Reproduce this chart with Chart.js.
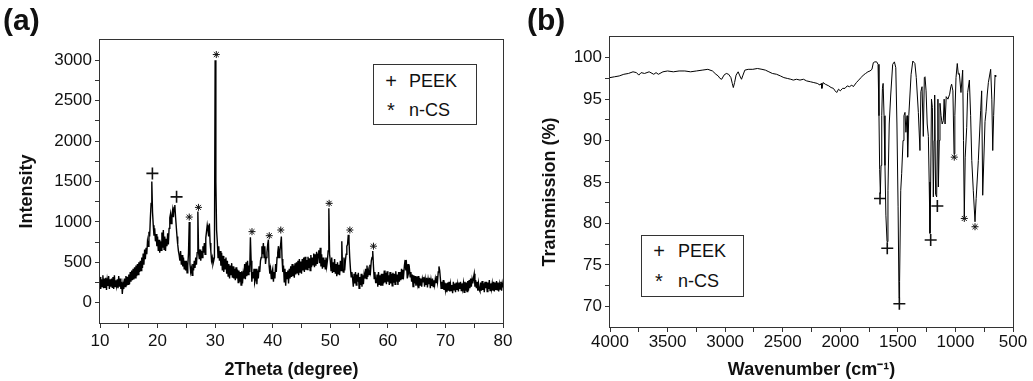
<!DOCTYPE html>
<html>
<head>
<meta charset="utf-8">
<script src="https://cdn.jsdelivr.net/npm/chart.js@4/dist/chart.umd.min.js"></script>
<style>
  body { margin: 0; width: 1033px; height: 381px; background: #fff; position: relative; overflow: hidden;
         font-family: "Liberation Sans", Arial, sans-serif; color: #111; }
  .panel { position: absolute; top: 0; height: 381px; }
  #panelA { left: 0; width: 516px; }
  #panelB { left: 516px; width: 517px; }
  .tag { position: absolute; top: 3px; font-weight: bold; font-size: 30px; }
  .legend { position: absolute; border: 1px solid #333; background: #fff; font-size: 18px; box-sizing: border-box; }
  .legend .row { position: absolute; left: 0; height: 22px; line-height: 22px; white-space: nowrap; }
  .legend .sym { position: absolute; width: 16px; text-align: center; font-size: 20px; }
</style>
</head>
<body>
<div class="panel" id="panelA"><canvas id="xrdChart" width="516" height="381"></canvas></div>
<div class="panel" id="panelB"><canvas id="ftirChart" width="517" height="381"></canvas></div>

<div class="tag" style="left:3px">(a)</div>
<div class="tag" style="left:527px">(b)</div>

<div class="legend" style="left:373px; top:64px; width:104px; height:61px">
  <div class="row" style="top:5px"><span class="sym" style="left:9px">+</span><span style="position:absolute; left:35px">PEEK</span></div>
  <div class="row" style="top:34px"><span class="sym" style="left:9px">*</span><span style="position:absolute; left:35px">n-CS</span></div>
</div>
<div class="legend" style="left:641px; top:235px; width:103px; height:62px">
  <div class="row" style="top:4px"><span class="sym" style="left:9px">+</span><span style="position:absolute; left:36px">PEEK</span></div>
  <div class="row" style="top:34px"><span class="sym" style="left:9px">*</span><span style="position:absolute; left:36px">n-CS</span></div>
</div>

<script>
// (a) XRD: 强度按 0.125° 步长读取, 从 10° 到 80°, 每行一个整度
const thetaStart = 10;
const thetaStep = 0.125;
const xrdIntensity = [
  320, 170, 290, 200, 340, 180, 300, 190,     // 10
  310, 160, 280, 210, 330, 170, 290, 200,     // 11
  300, 190, 320, 170, 340, 200, 280, 210,     // 12
  290, 180, 330, 200, 300, 170, 260, 110,     // 13
  230, 170, 300, 200, 330, 210, 320, 230,     // 14
  350, 230, 380, 260, 400, 280, 420, 290,     // 15
  440, 310, 460, 330, 480, 350, 500, 380,     // 16
  520, 400, 560, 430, 610, 470, 660, 540,     // 17
  680, 600, 760, 700, 880, 820, 1050, 1230,   // 18
  1500, 1120, 960, 830, 920, 760, 850, 700,   // 19
  820, 640, 780, 620, 760, 650, 870, 680,     // 20
  900, 660, 820, 640, 790, 700, 860, 720,     // 21
  920, 1050, 1100, 980, 1080, 1150, 1060, 1180, // 22
  1210, 1060, 940, 820, 720, 640, 590, 520,   // 23
  640, 470, 590, 450, 560, 420, 520, 400,     // 24
  520, 370, 460, 620, 1000, 480, 380, 430,    // 25
  340, 480, 400, 520, 430, 560, 470, 620,     // 26
  1130, 620, 540, 660, 520, 640, 560, 700,    // 27
  620, 740, 600, 800, 880, 960, 900, 820,     // 28
  980, 740, 640, 520, 560, 480, 520, 560,     // 29
  3000, 1500, 900, 760, 560, 700, 520, 640,   // 30
  460, 620, 400, 580, 380, 540, 420, 560,     // 31
  360, 520, 330, 480, 300, 460, 340, 490,     // 32
  310, 450, 300, 420, 280, 440, 300, 410,     // 33
  250, 400, 260, 380, 220, 390, 240, 360,     // 34
  300, 480, 290, 500, 330, 520, 350, 460,     // 35
  380, 810, 520, 260, 380, 300, 420, 250,     // 36
  290, 420, 230, 400, 300, 450, 380, 520,     // 37
  560, 700, 600, 740, 560, 700, 480, 560,     // 38
  620, 720, 780, 460, 360, 420, 300, 380,     // 39
  420, 260, 380, 300, 480, 380, 560, 620,     // 40
  700, 560, 640, 720, 820, 540, 380, 460,     // 41
  260, 420, 210, 380, 300, 400, 240, 420,     // 42
  300, 450, 320, 480, 330, 460, 310, 490,     // 43
  350, 500, 370, 520, 340, 540, 380, 510,     // 44
  360, 540, 400, 560, 380, 570, 410, 530,     // 45
  410, 570, 430, 550, 400, 590, 440, 560,     // 46
  470, 610, 440, 600, 460, 630, 480, 600,     // 47
  650, 490, 680, 450, 600, 420, 560, 440,     // 48
  530, 420, 560, 450, 520, 640, 1170, 600,    // 49
  520, 400, 560, 370, 500, 380, 540, 360,     // 50
  480, 330, 500, 360, 470, 340, 520, 400,     // 51
  760, 420, 380, 560, 400, 520, 600, 700,     // 52
  720, 840, 760, 560, 420, 320, 380, 300,     // 53
  200, 360, 240, 380, 220, 350, 260, 370,     // 54
  180, 320, 220, 360, 200, 340, 230, 350,     // 55
  300, 420, 300, 460, 320, 400, 350, 470,     // 56
  400, 520, 560, 640, 450, 300, 380, 250,     // 57
  250, 350, 200, 380, 230, 340, 210, 360,     // 58
  220, 360, 240, 400, 250, 370, 230, 390,     // 59
  260, 340, 220, 380, 240, 360, 210, 370,     // 60
  250, 360, 230, 390, 260, 350, 220, 380,     // 61
  260, 380, 280, 420, 300, 410, 350, 460,     // 62
  530, 400, 460, 300, 480, 380, 420, 320,     // 63
  380, 260, 350, 200, 340, 240, 330, 210,     // 64
  320, 240, 330, 180, 310, 220, 300, 200,     // 65
  300, 260, 320, 200, 290, 220, 310, 190,     // 66
  290, 230, 310, 180, 280, 210, 300, 200,     // 67
  280, 220, 300, 250, 330, 260, 380, 450,     // 68
  400, 300, 180, 260, 170, 280, 160, 250,     // 69
  160, 240, 130, 250, 150, 260, 140, 230,     // 70
  150, 220, 120, 260, 160, 240, 130, 250,     // 71
  160, 230, 140, 250, 170, 260, 150, 240,     // 72
  170, 240, 130, 260, 150, 250, 140, 270,     // 73
  150, 280, 180, 300, 200, 290, 240, 310,     // 74
  360, 200, 280, 180, 260, 150, 240, 160,     // 75
  140, 250, 150, 270, 160, 240, 130, 260,     // 76
  180, 260, 140, 250, 170, 280, 150, 240,     // 77
  170, 240, 150, 260, 140, 250, 160, 270,     // 78
  160, 250, 140, 230, 170, 260, 150, 240,     // 79
  190                                         // 80
];

// (a) 峰标记
const xrdPeekX = [19.1, 23.3];
const xrdPeekY = [1600, 1310];
const xrdCsX = [25.5, 27.1, 30.2, 36.4, 39.4, 41.4, 49.8, 53.4, 57.5];
const xrdCsY = [1060, 1180, 3070, 880, 830, 900, 1230, 900, 700];

// (b) FTIR
const wavenumber = [
  4000, 3960, 3920, 3880, 3840, 3800, 3770, 3750, 3730, 3700,
  3660, 3620, 3600, 3580, 3540, 3500, 3450, 3400, 3350, 3300,
  3250, 3200, 3150, 3110, 3080, 3060, 3045, 3030, 3010, 2990,
  2970, 2950, 2938, 2929, 2918, 2905, 2887, 2872, 2858, 2845,
  2829, 2800, 2760, 2720, 2680, 2650, 2620, 2590, 2553, 2520,
  2490, 2460, 2430, 2408, 2380, 2350, 2320, 2292, 2260, 2230,
  2200, 2176, 2165, 2160, 2150, 2130, 2100, 2080, 2060, 2045,
  2031, 2015, 2000, 1980, 1959, 1940, 1920, 1900, 1887, 1860,
  1840, 1820, 1800, 1780, 1760, 1742, 1725, 1713, 1700, 1684,
  1672, 1664, 1658, 1652, 1646, 1640, 1634, 1628, 1620, 1612,
  1604, 1594, 1586, 1575, 1562, 1545, 1530, 1518, 1508, 1498,
  1490, 1485, 1475, 1467, 1455, 1447, 1438, 1430, 1420, 1415,
  1405, 1395, 1385, 1370, 1352, 1340, 1322, 1308, 1300, 1290,
  1279, 1270, 1264, 1255, 1245, 1235, 1228, 1221, 1215, 1208,
  1200, 1192, 1185, 1180, 1172, 1163, 1157, 1152, 1148, 1140,
  1134, 1125, 1115, 1105, 1098, 1090, 1080, 1065, 1050, 1040,
  1033, 1022, 1012, 1005, 995, 984, 975, 966, 952, 937,
  930, 923, 915, 902, 894, 879, 868, 858, 845, 830,
  820, 801, 781, 772, 763, 743, 734, 724, 714, 694,
  684, 676, 668, 656, 650
];
const transmission = [
  97.6, 97.7, 97.8, 98.0, 98.1, 98.3, 98.2, 97.9, 98.2, 98.1,
  98.3, 98.0, 98.2, 98.0, 98.3, 98.4, 98.3, 98.4, 98.4, 98.3,
  98.4, 98.5, 98.6, 98.4, 98.0, 97.8, 97.5, 97.4, 97.9, 98.1,
  98.0, 97.6, 96.9, 96.4, 97.0, 97.9, 98.3, 97.8, 97.4, 97.9,
  98.5, 98.6, 98.6, 98.7, 98.6, 98.5, 98.3, 98.1, 98.0, 97.8,
  97.6, 97.5, 97.4, 97.3, 97.4, 97.3, 97.4, 97.2, 97.1, 97.0,
  96.9, 96.7, 96.9, 96.3, 97.0, 96.8, 96.6, 96.4, 96.3, 96.0,
  95.8, 96.2, 96.0, 96.3, 96.3, 96.6, 96.5, 96.7, 96.5, 97.0,
  97.3, 97.6, 97.9, 98.1, 98.3, 98.4, 98.6, 99.4, 99.5, 99.5,
  99.2, 93.0, 86.5, 83.6, 87.0, 93.0, 96.3, 96.9, 93.0, 87.0,
  81.0, 77.8, 84.0, 92.0, 95.5, 99.2, 99.5, 98.8, 92.0, 82.0,
  71.0, 73.0, 84.0, 86.0, 90.0, 93.0, 93.4, 91.0, 93.0, 88.0,
  93.0, 95.5, 98.0, 99.6, 99.3, 97.6, 93.4, 88.8, 95.9, 96.5,
  90.5, 97.6, 97.7, 96.0, 92.0, 90.5, 85.0, 78.8, 85.0, 95.0,
  94.0, 83.2, 90.0, 95.5, 83.5, 83.2, 90.0, 95.0, 84.4, 90.0,
  94.5, 93.0, 92.0, 92.4, 95.0, 92.0, 95.3, 95.0, 95.6, 96.5,
  96.8, 96.0, 88.4, 93.0, 97.6, 99.3, 98.0, 98.1, 95.8, 98.5,
  90.0, 80.8, 88.0, 91.6, 95.8, 97.3, 93.0, 87.6, 84.0, 80.2,
  83.0, 87.6, 93.6, 96.0, 83.4, 92.3, 93.5, 95.5, 97.0, 98.6,
  95.0, 88.8, 93.0, 97.9, 97.7
];

// (b) 峰标记
const ftirPeekX = [1655, 1592, 1487, 1215, 1157];
const ftirPeekY = [83.0, 77.0, 70.3, 78.0, 82.1];
const ftirCsX = [1010, 923, 830];
const ftirCsY = [88.0, 80.6, 79.6];

Chart.defaults.font.family = '"Liberation Sans", Arial, sans-serif';
Chart.defaults.color = '#111';

// 画出四周的边框
const framePlugin = {
  id: 'frame',
  afterDatasetsDraw(chart) {
    const { ctx, chartArea: a } = chart;
    ctx.save();
    ctx.strokeStyle = '#333';
    ctx.lineWidth = 1;
    ctx.strokeRect(a.left - 0.5, a.top - 0.5, a.right - a.left + 1, a.bottom - a.top + 1);
    ctx.restore();
  }
};

function toPoints(xs, ys) {
  return xs.map((x, i) => ({ x: x, y: ys[i] }));
}

function markerSet(xs, ys, style, radius, width) {
  return {
    data: toPoints(xs, ys),
    showLine: false,
    pointStyle: style,
    pointRadius: radius,
    pointBorderColor: '#111',
    pointBorderWidth: width,
    pointBackgroundColor: '#111'
  };
}

function axisGrid(hidden) {
  return {
    display: true,
    drawOnChartArea: false,
    tickLength: 5,
    tickWidth: 1,
    tickColor: (c) => (c.tick && hidden.includes(c.tick.value) ? 'rgba(0,0,0,0)' : '#333')
  };
}

function createPanel(canvasId, lineData, lineWidth, markers, cfg) {
  return new Chart(document.getElementById(canvasId), {
    type: 'line',
    data: {
      datasets: [
        {
          data: lineData,
          borderColor: '#000',
          borderWidth: lineWidth,
          pointRadius: 0,
          tension: 0
        }
      ].concat(markers)
    },
    options: {
      responsive: false,
      animation: false,
      events: [],
      layout: { autoPadding: false, padding: cfg.padding },
      plugins: { legend: { display: false }, tooltip: { enabled: false } },
      scales: {
        x: {
          type: 'linear',
          min: cfg.xMin,
          max: cfg.xMax,
          reverse: cfg.xReverse,
          border: { display: false },
          grid: axisGrid([]),
          afterFit: (s) => { s.height = cfg.xHeight; },
          ticks: {
            stepSize: cfg.xStep,
            autoSkip: false,
            maxRotation: 0,
            padding: cfg.xTickPad,
            font: { size: 17 },
            callback: (v) => (v % cfg.xLabelEvery === 0 ? String(v) : '')
          },
          title: {
            display: true,
            text: cfg.xTitle,
            font: { size: 18, weight: 'bold' },
            padding: { top: 0, bottom: 0 }
          }
        },
        y: {
          min: cfg.yMin,
          max: cfg.yMax,
          border: { display: false },
          grid: axisGrid([cfg.yMin, cfg.yMax]),
          afterFit: (s) => { s.width = cfg.yWidth; },
          ticks: {
            stepSize: cfg.yStep,
            autoSkip: false,
            padding: 3,
            font: { size: 17 },
            callback: (v) => {
              const r = Math.abs(v % cfg.yLabelEvery);
              return (r < 1e-6 || cfg.yLabelEvery - r < 1e-6) && v >= cfg.yLabelMin && v <= cfg.yLabelMax ? String(Math.round(v)) : '';
            }
          },
          title: {
            display: true,
            text: cfg.yTitle,
            font: { size: 18, weight: 'bold' },
            padding: { top: cfg.yTitlePad, bottom: 0 }
          }
        }
      }
    },
    plugins: [framePlugin]
  });
}

const xrdPoints = xrdIntensity.map((v, i) => ({ x: thetaStart + i * thetaStep, y: v }));

createPanel('xrdChart', xrdPoints, 1.4, [
  markerSet(xrdPeekX, xrdPeekY, 'cross', 6, 1.6),
  markerSet(xrdCsX, xrdCsY, 'star', 3.5, 1)
], {
  padding: { left: 0, right: 13, top: 40, bottom: 0 },
  xMin: 10, xMax: 80, xStep: 5, xLabelEvery: 10, xReverse: false, xHeight: 58, xTickPad: 3,
  xTitle: '2Theta (degree)    ',
  yMin: -250, yMax: 3250, yStep: 250, yLabelEvery: 500, yLabelMin: 0, yLabelMax: 3000,
  yWidth: 100, yTitlePad: 16,
  yTitle: 'Intensity    '
});

createPanel('ftirChart', toPoints(wavenumber, transmission), 1, [
  markerSet(ftirPeekX, ftirPeekY, 'cross', 6, 1.6),
  markerSet(ftirCsX, ftirCsY, 'star', 3.5, 1)
], {
  padding: { left: 0, right: 20, top: 37, bottom: 0 },
  xMin: 500, xMax: 4000, xStep: 250, xLabelEvery: 500, xReverse: true, xHeight: 54, xTickPad: 0,
  xTitle: 'Wavenumber (cm\u207B\u00B9)',
  yMin: 67.5, yMax: 102.5, yStep: 2.5, yLabelEvery: 5, yLabelMin: 70, yLabelMax: 100,
  yWidth: 94, yTitlePad: 23,
  yTitle: 'Transmission (%)    '
});
</script>
</body>
</html>
